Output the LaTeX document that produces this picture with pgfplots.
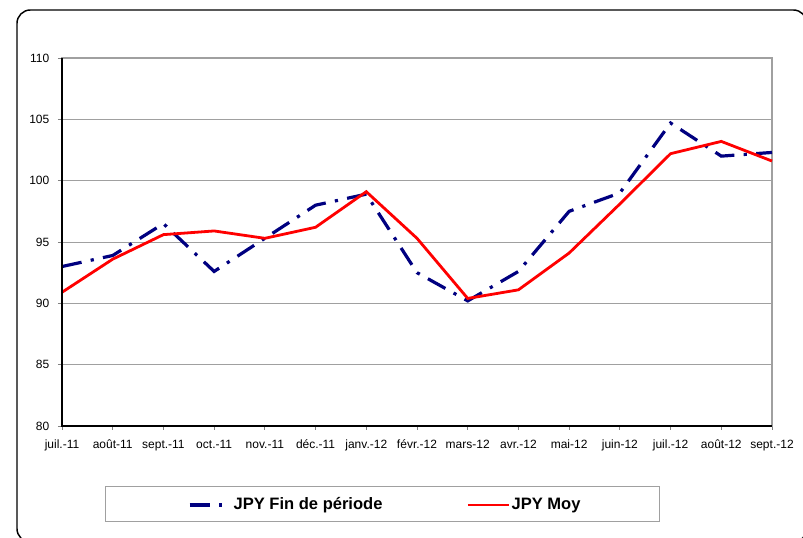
\documentclass[border=0pt]{standalone}
\usepackage{fontspec}
\setmainfont{Liberation Sans}
\usepackage{pgfplots}
\pgfplotsset{compat=1.18}
\definecolor{navyb}{RGB}{0,0,128}
\definecolor{gridg}{RGB}{160,160,160}
\begin{document}
\begin{tikzpicture}
\useasboundingbox (0,0) rectangle (602.25pt,403.5pt);
\draw[line width=1.1pt, rounded corners=10pt] (12.75pt,-3pt) rectangle (605pt,396pt);
\draw[gridg, line width=0.75pt] (78.75pt,12pt) rectangle (494.25pt,38.25pt);
\begin{axis}[
  at={(46.5pt,84pt)}, anchor=south west,
  scale only axis, width=532.5pt, height=276pt,
  xmin=0, xmax=14, ymin=80, ymax=110,
  xtick={0,...,14},
  xticklabels={juil.-11,août-11,sept.-11,oct.-11,nov.-11,déc.-11,janv.-12,févr.-12,mars-12,avr.-12,mai-12,juin-12,juil.-12,août-12,sept.-12},
  ytick={80,85,...,110},
  ymajorgrids, grid style={gridg, line width=0.7pt},
  axis line style={gridg, line width=0.8pt},
  tick align=outside, major tick length=3pt,
  tick style={gray, line width=0.6pt},
  xtick pos=bottom, ytick pos=left,
  ticklabel style={font=\fontsize{9}{10.8}\selectfont},
  /pgf/number format/assume math mode=true,
  yticklabel style={xshift=-3pt},
  xticklabel style={yshift=-4pt},
  clip=false,
  legend columns=2,
  legend style={at={(axis description cs:0.4549,-0.2147)}, anchor=center, draw=none, fill=none,
    font=\bfseries\fontsize{12.4}{14}\selectfont,
    /tikz/every even column/.append style={column sep=62pt},
    nodes={inner sep=1pt, text height=9pt, text depth=2.7pt}},
  legend image code/.code={\draw[#1] (0pt,0pt) -- (30.75pt,0pt);},
]
\addplot[navyb, line width=2.4pt, line cap=butt, dash pattern=on 15pt off 7pt on 2.4pt off 7pt] coordinates {
(0,93.0) (1,93.9) (2,96.5) (3,92.6) (4,95.3) (5,98.0) (6,98.9) (7,92.5)
(8,90.2) (9,92.6) (10,97.5) (11,99.0) (12,104.7) (13,102.0) (14,102.3)};
\addlegendentry{JPY Fin de période}
\addplot[red, line width=2.1pt] coordinates {
(0,90.9) (1,93.6) (2,95.6) (3,95.9) (4,95.3) (5,96.2) (6,99.1) (7,95.3)
(8,90.4) (9,91.1) (10,94.1) (11,98.1) (12,102.2) (13,103.2) (14,101.6)};
\addlegendentry{JPY Moy}
\draw[black, line width=0.9pt] (rel axis cs:0,1) -- (rel axis cs:0,0) -- (rel axis cs:1,0);
\end{axis}
\end{tikzpicture}
\end{document}
